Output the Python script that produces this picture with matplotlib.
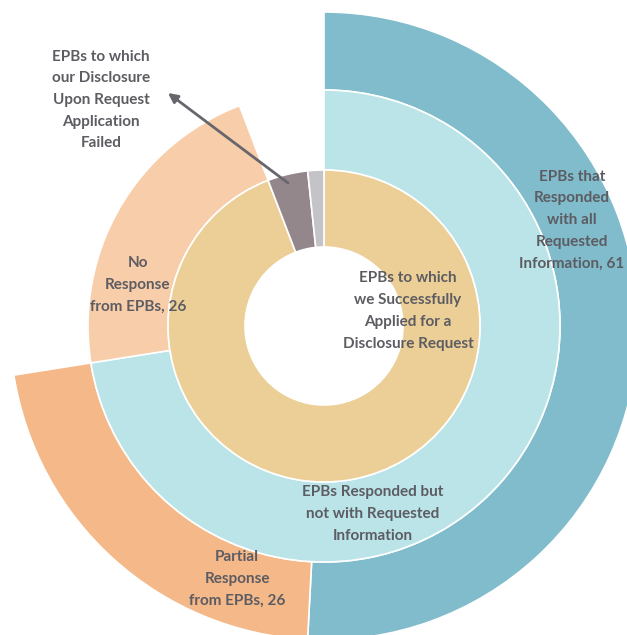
import matplotlib
matplotlib.use("Agg")
import matplotlib.pyplot as plt

# Inner ring: applications to the EPBs
inner_labels = ["Successfully Applied", "Application Failed", "Other"]
inner_values = [113, 5, 2]
inner_colors = ["#eccf97", "#93878b", "#c4c4c8"]

# Middle ring: response vs no response (remainder left blank)
middle_labels = ["Responded but not with Requested Info", "No Response", ""]
middle_values = [87, 26, 7]
middle_colors = ["#bae4e7", "#f8cdaa", "none"]

# Outer ring: full vs partial response (remainder left blank)
outer_labels = ["Responded with all Requested Info", "Partial Response", ""]
outer_values = [61, 26, 33]
outer_colors = ["#80bccb", "#f4b889", "none"]

text_color = "#5c5c62"
font = ["Lato", "DejaVu Sans"]

W, H = 627, 635
fig = plt.figure(figsize=(W / 100, H / 100), dpi=100)
ax = fig.add_axes([0, 0, 1, 1])

cx, cy = 324, H - 326
r_hole, r_inner, r_mid, r_outer = 79, 156, 236, 314


def ring(values, colors, radius, width):
    wedges, _ = ax.pie(values, colors=colors, radius=radius, center=(cx, cy),
                       startangle=90, counterclock=False,
                       wedgeprops=dict(width=width, edgecolor="white", linewidth=1.2))
    for w, c in zip(wedges, colors):
        if c == "none":
            w.set_edgecolor("none")
    return wedges


ring(outer_values, outer_colors, r_outer, r_outer - r_mid)
ring(middle_values, middle_colors, r_mid, r_mid - r_inner)
ring(inner_values, inner_colors, r_inner, r_inner - r_hole)

ax.set_xlim(0, W)
ax.set_ylim(0, H)
ax.set_aspect("equal")
ax.axis("off")


def label(x, y, s):
    ax.text(x, H - y, s, ha="center", va="center", color=text_color,
            fontsize=11, fontweight="bold", family=font, linespacing=1.7)


label(101, 100, "EPBs to which\nour Disclosure\nUpon Request\nApplication\nFailed")
label(138, 285, "No\nResponse\nfrom EPBs, 26")
label(572, 220, "EPBs that\nResponded\nwith all\nRequested\nInformation, 61")
label(408, 311, "EPBs to which\nwe Successfully\nApplied for a\nDisclosure Request")
label(373, 514, "EPBs Responded but\nnot with Requested\nInformation")
label(237, 579, "Partial\nResponse\nfrom EPBs, 26")

ax.annotate("", xy=(168, H - 93), xytext=(288, H - 183),
            arrowprops=dict(arrowstyle="-|>", color="#66666c", lw=2,
                            mutation_scale=14, shrinkA=0, shrinkB=0))

fig.savefig("out.png", dpi=100)
